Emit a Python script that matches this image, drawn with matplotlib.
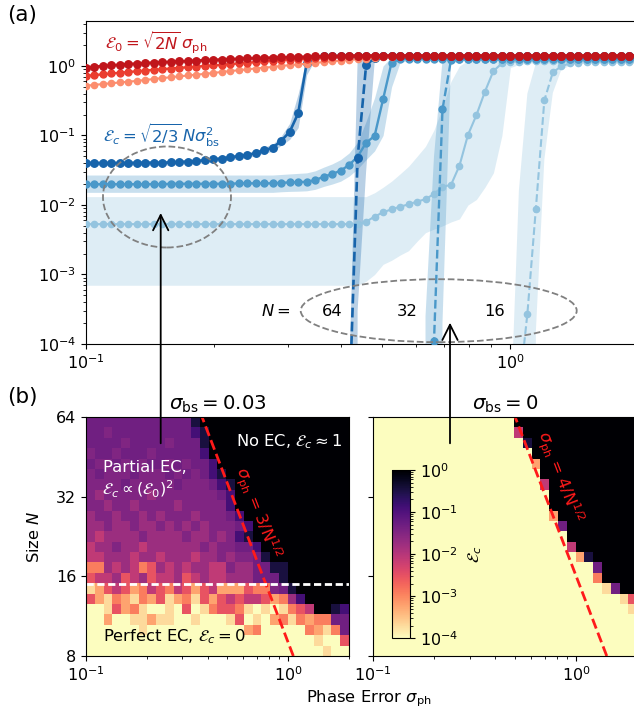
import numpy as np
import matplotlib
matplotlib.use("Agg")
import matplotlib.pyplot as plt
from matplotlib.colors import LogNorm
from matplotlib.patches import Ellipse, FancyArrowPatch
from matplotlib.ticker import NullLocator, FixedLocator, FixedFormatter

plt.rcParams["font.family"] = ["DejaVu Sans"]
plt.rcParams["mathtext.fontset"] = "dejavusans"
FS = 11.5
FT = 11.8

# ---------------- panel (a): logical error vs. phase error ----------------
sigma_ph = np.logspace(-1, np.log10(2.0), 66)

# uncorrected error E_0 (red) for N = 64, 32, 16
e0_n64 = [0.95, 0.975, 1.0, 1.02, 1.045, 1.065, 1.085, 1.10, 1.12, 1.135, 1.15,
          1.165, 1.18, 1.195, 1.21, 1.225, 1.24, 1.255, 1.27, 1.285, 1.30, 1.31,
          1.32, 1.33, 1.34, 1.35, 1.36, 1.37, 1.38, 1.39, 1.40] + [1.41] * 35
e0_n32 = [0.72, 0.74, 0.76, 0.78, 0.80, 0.82, 0.84, 0.86, 0.88, 0.90, 0.92, 0.94,
          0.96, 0.98, 1.00, 1.02, 1.04, 1.065, 1.09, 1.115, 1.14, 1.165, 1.19,
          1.215, 1.24, 1.26, 1.28, 1.30, 1.32, 1.34, 1.36, 1.375, 1.39, 1.40] + [1.41] * 32
e0_n16 = [0.52, 0.535, 0.55, 0.565, 0.58, 0.595, 0.61, 0.63, 0.65, 0.67, 0.69, 0.71,
          0.73, 0.75, 0.77, 0.795, 0.82, 0.845, 0.87, 0.895, 0.92, 0.945, 0.97, 1.0,
          1.03, 1.055, 1.08, 1.11, 1.14, 1.165, 1.19, 1.22, 1.25, 1.275, 1.30, 1.325,
          1.35, 1.37, 1.385, 1.40] + [1.41] * 26

# corrected error E_c with sigma_bs = 0.03 (solid): mean, lower, upper
ec03_n64 = [0.040] * 6 + [0.0405] * 4 + [0.041, 0.0415, 0.042, 0.043, 0.044, 0.0455,
            0.0465, 0.0485, 0.0505, 0.0525, 0.0555, 0.0615, 0.0665, 0.084, 0.113,
            0.209, 1.10, 1.33] + [1.38] * 38
ec03_n64_lo = [0.037] * 10 + [0.0378, 0.0382, 0.0387, 0.0396, 0.0405, 0.0419, 0.0428,
               0.0446, 0.0465, 0.0483, 0.051, 0.056, 0.059, 0.072, 0.088, 0.13, 0.75,
               1.25] + [1.34] * 38
ec03_n64_hi = [0.0435] * 10 + [0.0443, 0.0448, 0.0454, 0.0464, 0.0475, 0.0491, 0.0502,
               0.0524, 0.0545, 0.0567, 0.060, 0.068, 0.075, 0.098, 0.15, 0.40, 1.30,
               1.40] + [1.42] * 38

ec03_n32 = [0.0199] * 10 + [0.0202] * 8 + [0.0205] * 5 + [0.0209, 0.0211, 0.0213, 0.0216,
            0.0228, 0.0255, 0.0279, 0.0312, 0.0377, 0.0496, 0.0788, 0.0984, 0.332, 1.12,
            1.25] + [1.28] * 28
ec03_n32_lo = [0.0152] * 23 + [0.0155, 0.0157, 0.0158, 0.016, 0.0168, 0.0185, 0.020,
               0.022, 0.026, 0.033, 0.045, 0.06, 0.10, 0.50, 1.12] + [1.2] * 28
ec03_n32_hi = [0.027] * 23 + [0.0275, 0.028, 0.0285, 0.029, 0.031, 0.035, 0.039, 0.045,
               0.056, 0.08, 0.16, 0.35, 1.0, 1.35, 1.38] + [1.38] * 28

ec03_n16 = [0.0053] * 33 + [0.00575, 0.0068, 0.00785, 0.00867, 0.00946, 0.0102, 0.0112,
            0.0121, 0.0144, 0.0184, 0.0194, 0.0368, 0.1017, 0.197, 0.427, 0.847, 1.09,
            1.14, 1.16] + [1.17] * 14
ec03_n16_lo = [0.0007] * 33 + [0.0008, 0.001, 0.0014, 0.0016, 0.0019, 0.0022, 0.003,
               0.004, 0.0045, 0.005, 0.0057, 0.0063, 0.01, 0.012, 0.018, 0.029, 0.10,
               0.95, 1.05] + [1.1] * 14
ec03_n16_hi = [0.0132] * 34 + [0.015, 0.018, 0.022, 0.028, 0.036, 0.05, 0.07, 0.12,
               0.25, 0.6, 1.0, 1.2] + [1.25] * 20

# corrected error E_c with sigma_bs = 0 (dashed)
ec0_n64 = [0.0] * 31 + [1e-5, 0.047, 1.03, 1.3] + [1.38] * 31
ec0_n64_lo = [0.0] * 32 + [3e-4, 0.03, 1.1] + [1.3] * 31
ec0_n64_hi = [0.0] * 31 + [3e-5, 1.2, 1.4] + [1.42] * 32

ec0_n32 = [0.0] * 41 + [1.1e-4, 0.238, 1.22, 1.27] + [1.28] * 21
ec0_n32_lo = [0.0] * 42 + [2e-4, 1.05, 1.2] + [1.22] * 21
ec0_n32_hi = [0.0] * 40 + [2.5e-4, 0.05, 1.2, 1.35] + [1.36] * 22

ec0_n16 = [0.0] * 51 + [2e-5, 2.7e-4, 0.0088, 0.32, 0.81, 0.99, 1.09, 1.12, 1.14] + [1.16] * 6
ec0_n16_lo = [0.0] * 53 + [1.5e-4, 0.045, 0.41, 0.88, 1.0, 1.05] + [1.08] * 7
ec0_n16_hi = [0.0] * 50 + [8e-6, 0.016, 0.4, 1.1, 1.22] + [1.25] * 11

# ---------------- panel (b): E_c maps over (sigma_ph, N) ----------------
sigma_edges = np.logspace(-1, np.log10(2.0), 31)
size_edges = np.geomspace(8, 64, 24)

# one character per cell, rows from N = 64 (top) down to N = 8
level_value = {"0": 0.0, "1": 2e-4, "2": 6e-4, "3": 1.2e-3, "4": 3e-3, "5": 8e-3,
               "6": 0.018, "7": 0.033, "8": 0.048, "9": 0.13, "A": 0.35, "X": 1.4}

map_bs003 = [
    "8888888888" "88AXXXXXXX" "XXXXXXXXXX",
    "8878888888" "889AXXXXXX" "XXXXXXXXXX",
    "8888788887" "888AXXXXXX" "XXXXXXXXXX",
    "7887888788" "8889XXXXXX" "XXXXXXXXXX",
    "8778787887" "87889XXXXX" "XXXXXXXXXX",
    "7877787778" "78789AXXXX" "XXXXXXXXXX",
    "7777877777" "877789AXXX" "XXXXXXXXXX",
    "7677777677" "7777789XXX" "XXXXXXXXXX",
    "7767767777" "6777779XXX" "XXXXXXXXXX",
    "6776776767" "77677789XX" "XXXXXXXXXX",
    "6676676676" "767677789X" "XXXXXXXXXX",
    "6566667666" "67667679AX" "XXXXXXXXXX",
    "5667665666" "6667677889" "XXXXXXXXXX",
    "5566656656" "6656676778" "AXXXXXXXXX",
    "3365653465" "6566557668" "8AAXXXXXXX",
    "4556456455" "6456556668" "88AXXXXXXX",
    "1245423543" "5424522243" "378AXXXXXX",
    "4213213241" "2314245455" "42369XXXXX",
    "0014231001" "0401344310" "101345XXA9",
    "0020011211" "0010001401" "0231323388",
    "0000001000" "0000000023" "0000032138",
    "0000000000" "0000000000" "0000001004",
    "0000000000" "0000000000" "0000000100",
]

map_bs0 = [
    "0000000000" "000000XXXX" "XXXXXXXXXX",
    "0000000000" "0000005XXX" "XXXXXXXXXX",
    "0000000000" "0000000AXX" "XXXXXXXXXX",
    "0000000000" "00000000XX" "XXXXXXXXXX",
    "0000000000" "000000002X" "XXXXXXXXXX",
    "0000000000" "000000000X" "XXXXXXXXXX",
    "0000000000" "0000000005" "XXXXXXXXXX",
    "0000000000" "0000000000" "XXXXXXXXXX",
    "0000000000" "0000000000" "XXXXXXXXXX",
    "0000000000" "0000000000" "2XXXXXXXXX",
    "0000000000" "0000000000" "08XXXXXXXX",
    "0000000000" "0000000000" "00XXXXXXXX",
    "0000000000" "0000000000" "005XXXXXXX",
    "0000000000" "0000000000" "0002AXXXXX",
    "0000000000" "0000000000" "000008XXXX",
    "0000000000" "0000000000" "000003XXXX",
    "0000000000" "0000000000" "00000018XX",
    "0000000000" "0000000000" "0000000014",
    "0000000000" "0000000000" "0000000001",
    "0000000000" "0000000000" "0000000000",
    "0000000000" "0000000000" "0000000000",
    "0000000000" "0000000000" "0000000000",
    "0000000000" "0000000000" "0000000000",
]


def decode(rows):
    grid = np.array([[level_value[c] for c in row] for row in rows[::-1]])
    return np.ma.masked_less_equal(grid, 0.0)


# ---------------- figure ----------------
W, H = 634.0, 708.0
fig = plt.figure(figsize=(W / 100, H / 100), dpi=100)


def box(x0, y0, x1, y1):
    return [x0 / W, 1 - y1 / H, (x1 - x0) / W, (y1 - y0) / H]


blue = {64: "#1764ab", 32: "#4a98c9", 16: "#94c4df"}
red = {64: "#c0151b", 32: "#ea3d2f", 16: "#fc8d6e"}
lw = {64: 1.9, 32: 1.7, 16: 1.5}
ms = {64: 5.4, 32: 5.0, 16: 4.5}

ax = fig.add_axes(box(86, 21, 637.7, 344))
ax.set_xscale("log")
ax.set_yscale("log")

blue_sets = [
    (16, "-", ec03_n16, ec03_n16_lo, ec03_n16_hi),
    (16, "--", ec0_n16, ec0_n16_lo, ec0_n16_hi),
    (32, "-", ec03_n32, ec03_n32_lo, ec03_n32_hi),
    (32, "--", ec0_n32, ec0_n32_lo, ec0_n32_hi),
    (64, "-", ec03_n64, ec03_n64_lo, ec03_n64_hi),
    (64, "--", ec0_n64, ec0_n64_lo, ec0_n64_hi),
]
for n, ls, mean, lo, hi in blue_sets:
    ax.fill_between(sigma_ph, lo, hi, color=blue[n], alpha=0.3, lw=0, zorder=1)
for n, ls, mean, lo, hi in blue_sets:
    ax.plot(sigma_ph, mean, ls=ls, marker="o", color=blue[n], lw=lw[n], ms=ms[n],
            mec=blue[n], zorder=3)
for n, e0 in [(16, e0_n16), (32, e0_n32), (64, e0_n64)]:
    ax.plot(sigma_ph, e0, "-o", color=red[n], lw=lw[n], ms=ms[n], mec=red[n], zorder=4)

ax.set_xlim(0.1, 2.0)
ax.set_ylim(1e-4, 4.44)
ax.tick_params(labelsize=FS)

ax.text(0.034, 0.932, r"$\mathcal{E}_0=\sqrt{2N}\,\sigma_{\rm ph}$", transform=ax.transAxes,
        color=red[64], fontsize=FT, va="center", ha="left")
ax.text(0.031, 0.647, r"$\mathcal{E}_c=\sqrt{2/3}\,N\sigma_{\rm bs}^2$", transform=ax.transAxes,
        color=blue[64], fontsize=FT, va="center", ha="left")

ax.add_patch(Ellipse((0.1468, 0.4551), 0.232, 0.3127, transform=ax.transAxes, fill=False,
                     ls="--", ec="#808080", lw=1.3, zorder=5))
ax.add_patch(Ellipse((0.6393, 0.1031), 0.5003, 0.195, transform=ax.transAxes, fill=False,
                     ls="--", ec="#808080", lw=1.3, zorder=5))
ax.text(0.344, 0.101, r"$N=$", transform=ax.transAxes, fontsize=FT, ha="center", va="center")
for xa, lab in [(0.4454, "64"), (0.5813, "32"), (0.7413, "16")]:
    ax.text(xa, 0.101, lab, transform=ax.transAxes, fontsize=FT, ha="center", va="center")

# heatmaps
cmap = plt.get_cmap("magma_r").copy()
cmap.set_bad(cmap(0.0))
cmap.set_under(cmap(0.0))
norm = LogNorm(vmin=1e-4, vmax=1.0)

axl = fig.add_axes(box(86, 417, 349, 656))
axr = fig.add_axes(box(373.3, 417, 637.3, 656))
mesh = None
for a, data, title in [(axl, map_bs003, r"$\sigma_{\rm bs}=0.03$"),
                       (axr, map_bs0, r"$\sigma_{\rm bs}=0$")]:
    a.set_facecolor(cmap(0.0))
    mesh = a.pcolormesh(sigma_edges, size_edges, decode(data), cmap=cmap, norm=norm,
                        shading="flat", edgecolors="face", linewidth=0.0)
    a.set_xscale("log")
    a.set_yscale("log", base=2)
    a.set_xlim(0.1, 2.0)
    a.set_ylim(8, 64)
    a.yaxis.set_major_locator(FixedLocator([8, 16, 32, 64]))
    a.yaxis.set_minor_locator(NullLocator())
    a.tick_params(labelsize=FS)
    a.set_title(title, fontsize=14.2, pad=5)

axl.yaxis.set_major_formatter(FixedFormatter(["8", "16", "32", "64"]))
axr.yaxis.set_major_formatter(FixedFormatter(["", "", "", ""]))
axl.set_ylabel(r"Size $N$", fontsize=FT)
axl.yaxis.set_label_coords(-0.167, 0.5)

size_line = np.geomspace(8, 64, 60)
axl.plot(3 / np.sqrt(size_line), size_line, ls="--", color="#ff1a1a", lw=2)
axr.plot(4 / np.sqrt(size_line), size_line, ls="--", color="#ff1a1a", lw=2)
axl.axhline(15, color="white", ls="--", lw=2, dashes=(2.6, 1.3))

axl.text(0.706, 27.8, r"$\sigma_{\rm ph}$ = 3/N$^{1/2}$", color="#ff1a1a", fontsize=FT,
         rotation=-69, ha="center", va="center", rotation_mode="anchor")
axr.text(0.824, 38.0, r"$\sigma_{\rm ph}$ = 4/N$^{1/2}$", color="#ff1a1a", fontsize=FT,
         rotation=-69, ha="center", va="center", rotation_mode="anchor")

axl.text(0.977, 0.895, r"No EC, $\mathcal{E}_c\approx1$", transform=axl.transAxes,
         color="white", fontsize=FT, ha="right", va="center")
axl.text(0.0646, 0.787, "Partial EC,", transform=axl.transAxes, color="white",
         fontsize=FT, ha="left", va="center")
axl.text(0.061, 0.695, r"$\mathcal{E}_c\propto(\mathcal{E}_0)^2$", transform=axl.transAxes,
         color="white", fontsize=FT, ha="left", va="center")
axl.text(0.0646, 0.0795, r"Perfect EC, $\mathcal{E}_c=0$", transform=axl.transAxes,
         color="black", fontsize=FT, ha="left", va="center")

cax = fig.add_axes(box(391.7, 470, 410, 638.3))
cb = fig.colorbar(mesh, cax=cax)
cb.ax.tick_params(labelsize=FS)
cb.set_label(r"$\mathcal{E}_c$", fontsize=FT, labelpad=6)

# arrows linking the maps to the curves
for xp, y0, y1 in [(160.7, 443.3, 213.0), (450.0, 443.3, 322.7)]:
    fig.add_artist(FancyArrowPatch((xp / W, 1 - y0 / H), (xp / W, 1 - y1 / H),
                                   transform=fig.transFigure,
                                   arrowstyle="->,head_length=0.5,head_width=0.25",
                                   mutation_scale=22, lw=1.3, color="black",
                                   shrinkA=0, shrinkB=0))

fig.text(7 / W, 1 - 15 / H, "(a)", fontsize=15.5, ha="left", va="center")
fig.text(7 / W, 1 - 397 / H, "(b)", fontsize=15.5, ha="left", va="center")
fig.text(369 / W, 1 - 702 / H, r"Phase Error $\sigma_{\rm ph}$", fontsize=FT,
         ha="center", va="baseline")

fig.savefig("out.png", dpi=100)
